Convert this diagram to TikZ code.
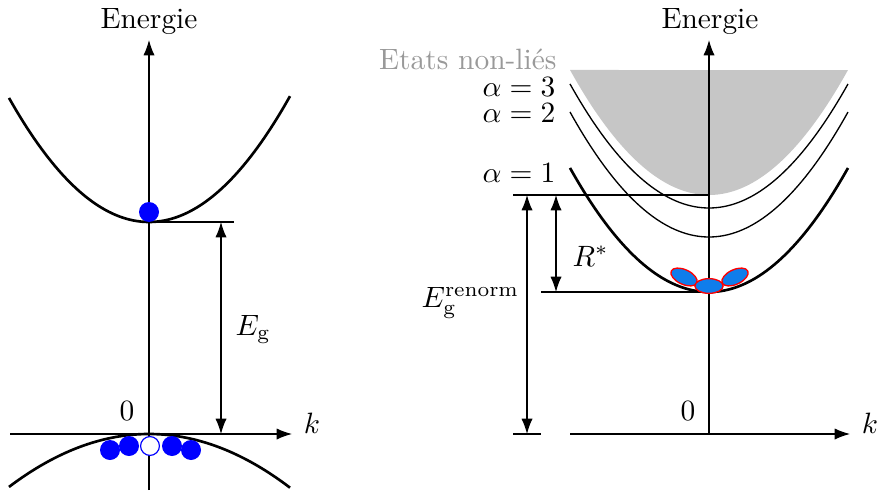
\documentclass[tikz,border=0pt]{standalone}
\usetikzlibrary{arrows.meta,shapes.geometric}
\definecolor{excblue}{RGB}{15,125,235}
\begin{document}
\begin{tikzpicture}[x=0.34pt,y=-0.34pt,
  axis/.style={line width=0.4pt,-{Latex[length=5.2pt,width=3.8pt]}},
  dimarrow/.style={line width=0.4pt,{Latex[length=5.2pt,width=3.8pt]}-{Latex[length=5.2pt,width=3.8pt]}},
  band/.style={line width=0.9pt},
  level/.style={line width=0.45pt},
  guide/.style={line width=0.4pt},
  elec/.style={circle,fill=blue,inner sep=0pt,minimum size=6.8pt},
  hole/.style={circle,draw=blue,fill=white,line width=0.4pt,inner sep=0pt,minimum size=6.4pt},
  exc/.style={ellipse,draw=red,fill=excblue,line width=0.45pt,inner sep=0pt,minimum width=9.6pt,minimum height=5pt},
  lbl/.style={inner sep=0pt}]
\useasboundingbox (0,0) rectangle (878,494);

% ---------------- left diagram ----------------
\coordinate (lxa) at (10,434);
\coordinate (lxb) at (292,434);
\coordinate (lya) at (149,490);
\coordinate (lyb) at (149,40);
\draw[band] plot[domain=-1.40:1.41,samples=80] ({149+100*\x},{222-63.3*\x*\x});
\draw[band] plot[domain=-1.40:1.41,samples=80] ({149+100*\x},{434+27*\x*\x});
\draw[axis] (lxa) -- (lxb);
\draw[axis] (lya) -- (lyb);
\node[anchor=base] (lE) at (149,29) {Energie};
\node[anchor=base] (lk) at (312,433) {$k$};
\node[anchor=base] (l0) at (127,420) {$0$};

\coordinate (cbmin) at (149,222);
\coordinate (cbr) at (234,222);
\coordinate (egt) at (221,222);
\coordinate (egb) at (221,434);
\draw[guide] (cbmin) -- (cbr);
\draw[dimarrow] (egt) -- (egb);
\node[lbl,anchor=base west] (eg) at (235,335) {$E_{\mathrm{g}}$};

\node[elec] (el) at (149,212) {};
\node[elec] (h1) at (110,450) {};
\node[elec] (h2) at (129,446) {};
\node[hole] (h3) at (150,446) {};
\node[elec] (h4) at (172,446) {};
\node[elec] (h5) at (191,450) {};

% ---------------- right diagram ----------------
\fill[gray!45] plot[domain=-1.39:1.39,samples=80] ({709+100*\x},{195-64.7*\x*\x}) -- cycle;
\draw[level] plot[domain=-1.39:1.39,samples=80] ({709+100*\x},{208-64.2*\x*\x});
\draw[level] plot[domain=-1.39:1.39,samples=80] ({709+100*\x},{237-64.7*\x*\x});
\draw[band] plot[domain=-1.39:1.39,samples=80] ({709+100*\x},{292-64.2*\x*\x});

\coordinate (rxa) at (570,434);
\coordinate (rxb) at (850,434);
\coordinate (rya) at (709,434);
\coordinate (ryb) at (709,40);
\draw[axis] (rxa) -- (rxb);
\draw[axis] (rya) -- (ryb);
\node[anchor=base] (rE) at (710,29) {Energie};
\node[anchor=base] (rk) at (870,433) {$k$};
\node[anchor=base] (r0) at (688,420) {$0$};

\node[lbl,anchor=base east,text=gray!80] (unb) at (557,70) {Etats non-liés};
\node[lbl,anchor=base east] (a3) at (556,97) {$\alpha=3$};
\node[lbl,anchor=base east] (a2) at (556,123) {$\alpha=2$};
\node[lbl,anchor=base east] (a1) at (556,182) {$\alpha=1$};

\coordinate (g1a) at (513,195);
\coordinate (g1b) at (709,195);
\coordinate (g2a) at (541,292);
\coordinate (g2b) at (709,292);
\coordinate (g3a) at (513,434);
\coordinate (g3b) at (541,434);
\draw[guide] (g1a) -- (g1b);
\draw[guide] (g2a) -- (g2b);
\draw[guide] (g3a) -- (g3b);
\coordinate (ert) at (527,195);
\coordinate (erb) at (527,434);
\coordinate (rst) at (556,195);
\coordinate (rsb) at (556,292);
\draw[dimarrow] (ert) -- (erb);
\draw[dimarrow] (rst) -- (rsb);
\node[lbl,anchor=base west] (egr) at (421,307) {$E_{\mathrm{g}}^{\mathrm{renorm}}$};
\node[lbl,anchor=base west] (rstar) at (572,266) {$R^*$};

\node[exc,rotate=-25] (x1) at (684,277) {};
\node[exc,rotate=25] (x3) at (735,277) {};
\node[exc] (x2) at (709,286) {};
\end{tikzpicture}
\end{document}
